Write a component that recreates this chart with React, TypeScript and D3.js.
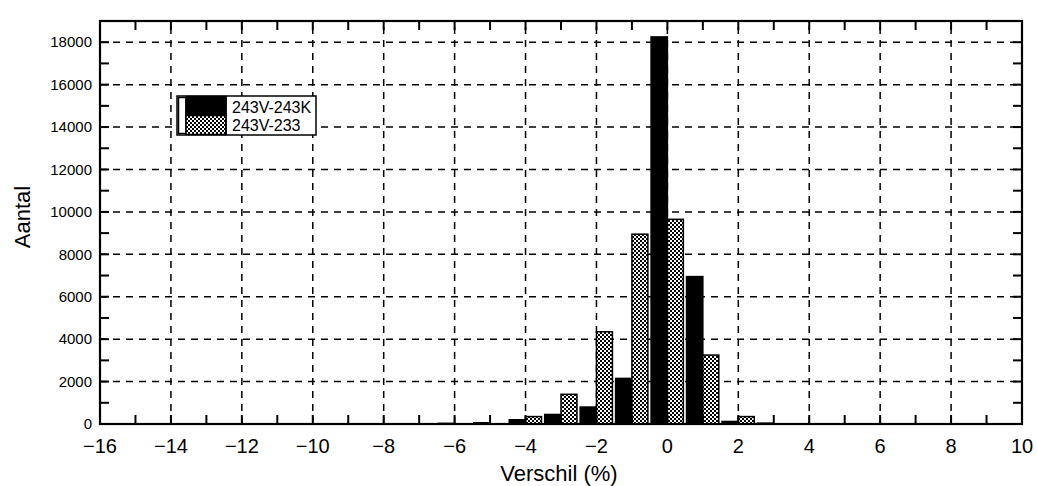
import React from "react";
import * as d3 from "d3";

// histogram bins (centre of each 1 % class)
const bins = [-6, -5, -4, -3, -2, -1, 0, 1, 2, 3];
// 243V-243K (black bars)
const valuesK = [30, 60, 200, 450, 800, 2150, 18250, 6950, 120, 40];
// 243V-233 (stippled bars)
const values233 = [0, 0, 350, 1400, 4350, 8950, 9650, 3250, 350, 0];
const seriesNames = ["243V-243K", "243V-233"];

const xTickLabels = [-16, -14, -12, -10, -8, -6, -4, -2, 0, 2, 4, 6, 8, 10];
const yTickLabels = [0, 2000, 4000, 6000, 8000, 10000, 12000, 14000, 16000, 18000];
const xMinorTicks = [-15, -13, -11, -9, -7, -5, -3, -1, 1, 3, 5, 7, 9];
const yMinorTicks = [1000, 3000, 5000, 7000, 9000, 11000, 13000, 15000, 17000];

const width = 1037;
const height = 486;
const marginLeft = 100;
const marginRight = 15;
const marginTop = 21;
const marginBottom = 62;
const font = "'Liberation Sans', Arial, Helvetica, sans-serif";

export default function App() {
  const x = d3
    .scaleLinear()
    .domain([-16, 10])
    .range([marginLeft, width - marginRight]);
  const y = d3
    .scaleLinear()
    .domain([0, 19000])
    .range([height - marginBottom, marginTop]);

  const x0 = x.range()[0];
  const x1 = x.range()[1];
  const y0 = y.range()[0];
  const y1 = y.range()[1];
  const tick = 9;
  const fmt = d3.format("");

  return (
    <svg
      width={width}
      height={height}
      style={{ position: "absolute", left: 0, top: 0, background: "white" }}
      fontFamily={font}
    >
      <defs>
        <pattern id="stipple" width="4" height="4" patternUnits="userSpaceOnUse">
          <rect width="4" height="4" fill="white" />
          <rect x="0" y="0" width="2" height="2" fill="black" />
          <rect x="2" y="2" width="2" height="2" fill="black" />
        </pattern>
      </defs>

      {/* dashed grid */}
      <g stroke="black" strokeWidth={1.5} strokeDasharray="7,6">
        {yTickLabels.slice(1).map((v) => (
          <line key={"h" + v} x1={x0} x2={x1} y1={y(v)} y2={y(v)} />
        ))}
        {xTickLabels.slice(1, -1).map((v) => (
          <line key={"v" + v} x1={x(v)} x2={x(v)} y1={y0} y2={y1} />
        ))}
      </g>

      {/* bars */}
      <g stroke="black" strokeWidth={1.5}>
        {bins.map((b, i) =>
          valuesK[i] > 0 ? (
            <rect
              key={"k" + b}
              x={x(b - 0.46)}
              width={x(b) - x(b - 0.46)}
              y={y(valuesK[i])}
              height={y0 - y(valuesK[i])}
              fill="black"
            />
          ) : null
        )}
        {bins.map((b, i) =>
          values233[i] > 0 ? (
            <rect
              key={"s" + b}
              x={x(b)}
              width={x(b + 0.45) - x(b)}
              y={y(values233[i])}
              height={y0 - y(values233[i])}
              fill="url(#stipple)"
            />
          ) : null
        )}
      </g>

      {/* ticks on all four sides, pointing inward */}
      <g stroke="black" strokeWidth={2}>
        {[...xTickLabels, ...xMinorTicks].map((v) => (
          <g key={"xt" + v}>
            <line x1={x(v)} x2={x(v)} y1={y0} y2={y0 - tick} />
            <line x1={x(v)} x2={x(v)} y1={y1} y2={y1 + tick} />
          </g>
        ))}
        {[...yTickLabels, ...yMinorTicks].map((v) => (
          <g key={"yt" + v}>
            <line x1={x0} x2={x0 + tick} y1={y(v)} y2={y(v)} />
            <line x1={x1} x2={x1 - tick} y1={y(v)} y2={y(v)} />
          </g>
        ))}
      </g>

      {/* frame */}
      <rect
        x={x0}
        y={y1}
        width={x1 - x0}
        height={y0 - y1}
        fill="none"
        stroke="black"
        strokeWidth={2.2}
      />

      {/* tick labels */}
      <g fontSize={15} textAnchor="end">
        {yTickLabels.map((v) => (
          <text key={"yl" + v} x={x0 - 8} y={y(v)} dy="0.35em">
            {v}
          </text>
        ))}
      </g>
      <g fontSize={20} textAnchor="middle">
        {xTickLabels.map((v) => (
          <text key={"xl" + v} x={x(v)} y={y0 + 29}>
            {v < 0 ? "\u2212" + fmt(-v) : fmt(v)}
          </text>
        ))}
      </g>

      {/* axis titles */}
      <text x={559} y={481} fontSize={22} textAnchor="middle">
        Verschil (%)
      </text>
      <text
        transform={`translate(30,217) rotate(-90)`}
        fontSize={22}
        textAnchor="middle"
      >
        Aantal
      </text>

      {/* legend */}
      <g stroke="black" strokeWidth={1.5}>
        <rect x={177} y={96} width={139} height={39} fill="white" />
        <rect x={178.5} y={97.5} width={7.5} height={36} fill="white" />
        <rect x={186} y={96.5} width={40} height={19} fill="black" />
        <rect x={186} y={115.5} width={40} height={19} fill="url(#stipple)" />
        <line x1={226} x2={226} y1={96} y2={135} />
      </g>
      <g fontSize={16}>
        <text x={232} y={113}>
          {seriesNames[0]}
        </text>
        <text x={232} y={131}>
          {seriesNames[1]}
        </text>
      </g>
    </svg>
  );
}
